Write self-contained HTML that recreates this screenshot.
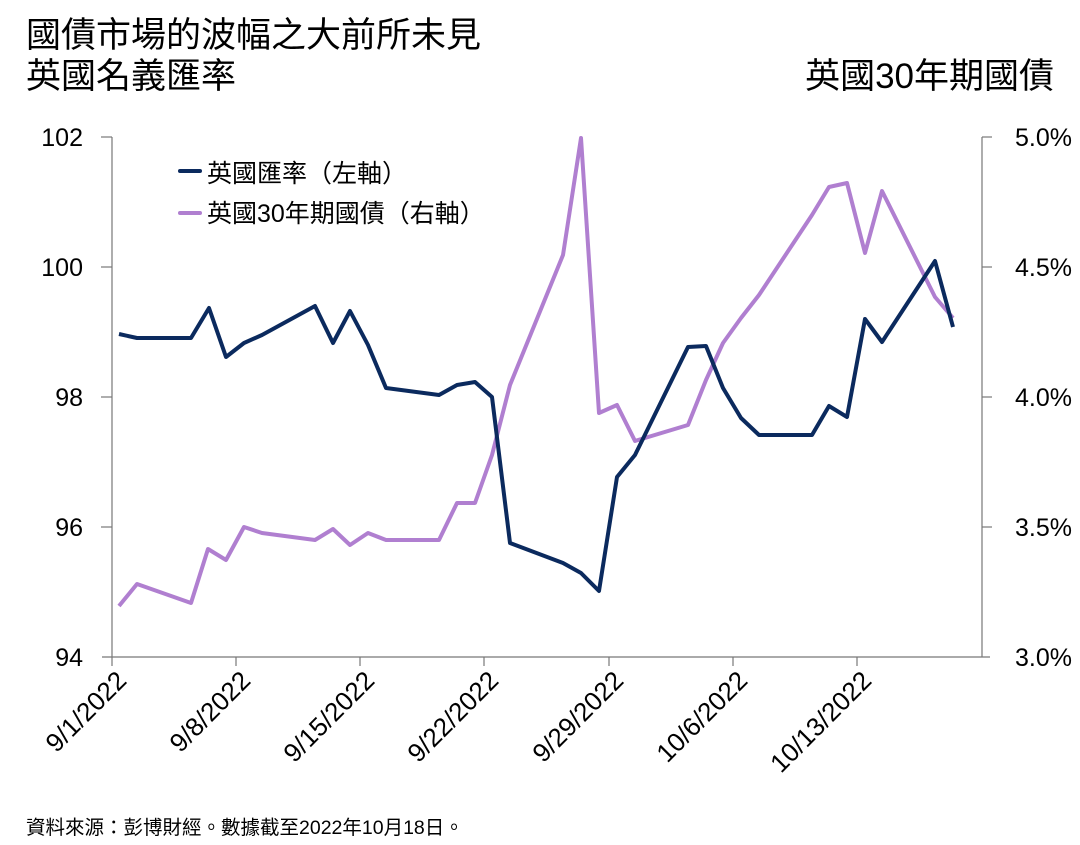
<!DOCTYPE html>
<html><head><meta charset="utf-8"><style>
body{margin:0;background:#fff;}
svg text{font-family:"Liberation Sans","Noto Sans CJK TC",sans-serif;fill:#000;}
</style></head><body>
<svg width="1080" height="840" viewBox="0 0 1080 840" xmlns="http://www.w3.org/2000/svg">
<text x="26" y="47" font-size="35">國債市場的波幅之大前所未見</text>
<text x="26" y="88" font-size="35">英國名義匯率</text>
<text x="1054" y="88" font-size="35" text-anchor="end">英國30年期國債</text>
<g stroke="#777" stroke-width="1.2">
<line x1="112" y1="137" x2="112" y2="657"/>
<line x1="982" y1="137" x2="982" y2="657"/>
<line x1="102" y1="657" x2="990" y2="657"/>
<line x1="101" y1="137" x2="112" y2="137"/><line x1="101" y1="267" x2="112" y2="267"/><line x1="101" y1="397" x2="112" y2="397"/><line x1="101" y1="527" x2="112" y2="527"/>
<line x1="982" y1="137" x2="992" y2="137"/><line x1="982" y1="267" x2="992" y2="267"/><line x1="982" y1="397" x2="992" y2="397"/><line x1="982" y1="527" x2="992" y2="527"/>
<line x1="112" y1="657" x2="112" y2="666"/><line x1="236" y1="657" x2="236" y2="666"/><line x1="360" y1="657" x2="360" y2="666"/><line x1="484" y1="657" x2="484" y2="666"/><line x1="609" y1="657" x2="609" y2="666"/><line x1="733" y1="657" x2="733" y2="666"/><line x1="857" y1="657" x2="857" y2="666"/>
</g>
<g font-size="25" text-anchor="end">
<text x="83" y="146">102</text><text x="83" y="276">100</text><text x="83" y="406">98</text><text x="83" y="536">96</text><text x="83" y="666">94</text>
</g>
<g font-size="25" text-anchor="end">
<text x="1072" y="146">5.0%</text><text x="1072" y="276">4.5%</text><text x="1072" y="406">4.0%</text><text x="1072" y="536">3.5%</text><text x="1072" y="666">3.0%</text>
</g>
<g font-size="26" text-anchor="end">
<text transform="translate(128,682) rotate(-45)">9/1/2022</text>
<text transform="translate(252,682) rotate(-45)">9/8/2022</text>
<text transform="translate(376,682) rotate(-45)">9/15/2022</text>
<text transform="translate(500,682) rotate(-45)">9/22/2022</text>
<text transform="translate(625,682) rotate(-45)">9/29/2022</text>
<text transform="translate(749,682) rotate(-45)">10/6/2022</text>
<text transform="translate(873,682) rotate(-45)">10/13/2022</text>
</g>
<polyline fill="none" stroke="#b07fd0" stroke-width="4" stroke-linejoin="round" points="119,606 137,584 191,603 208,549 226,560 244,527 262,533 315,540 333,529 350,545 368,533 386,540 439,540 457,503 475,503 492,455 510,385 563,255 581,138 599,413 617,405 635,441 688,425 706,380 723,343 741,318 759,295 812,215 829,187 847,183 865,253 882,191 935,297 953,318"/>
<polyline fill="none" stroke="#0b2a5e" stroke-width="4" stroke-linejoin="round" points="119,334 137,338 191,338 209,308 226,357 244,343 262,335 315,306 333,343 350,311 368,345 386,388 439,395 457,385 475,382 492,397 510,543 563,563 581,573 599,591 617,477 635,455 688,347 706,346 723,388 741,418 759,435 812,435 829,406 847,417 865,319 882,342 935,261 953,327"/>
<line x1="180" y1="171" x2="200" y2="171" stroke="#0b2a5e" stroke-width="4" stroke-linecap="round"/>
<text x="207" y="182" font-size="25">英國匯率（左軸）</text>
<line x1="180" y1="213" x2="200" y2="213" stroke="#b07fd0" stroke-width="4" stroke-linecap="round"/>
<text x="207" y="222" font-size="25">英國30年期國債（右軸）</text>
<text x="26" y="834" font-size="19.5">資料來源：彭博財經。數據截至2022年10月18日。</text>
</svg>
</body></html>
